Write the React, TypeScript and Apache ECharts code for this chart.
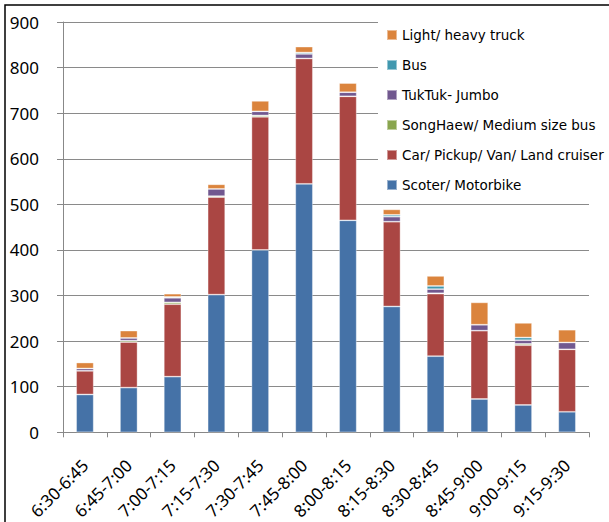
import React, { useEffect, useRef } from "react";
import * as echarts from "echarts";

const categories = ["6:30-6:45", "6:45-7:00", "7:00-7:15", "7:15-7:30", "7:30-7:45", "7:45-8:00", "8:00-8:15", "8:15-8:30", "8:30-8:45", "8:45-9:00", "9:00-9:15", "9:15-9:30"];
const scoter = [83, 98, 122, 302, 400, 545, 465, 276, 167, 73, 60, 45];
const car = [52, 100, 159, 214, 292, 275, 272, 186, 137, 150, 131, 137];
const songHaew = [0, 3, 4, 2, 3, 0, 0, 0, 1, 0, 3, 0];
const tukTuk = [5, 6, 10, 16, 9, 10, 9, 11, 9, 13, 8, 15];
const bus = [0, 0, 2, 0, 0, 3, 0, 4, 7, 0, 6, 0];
const truck = [13, 16, 7, 10, 23, 13, 20, 12, 22, 49, 32, 28];

const seriesNames = [
  "Scoter/ Motorbike",
  "Car/ Pickup/ Van/ Land cruiser",
  "SongHaew/ Medium size bus",
  "TukTuk- Jumbo",
  "Bus",
  "Light/ heavy truck",
];
const seriesData = [scoter, car, songHaew, tukTuk, bus, truck];
const colors = ["#4572A7", "#AA4643", "#89A54E", "#71588F", "#4198AF", "#DB843D"];

export default function App() {
  const ref = useRef<HTMLDivElement>(null);
  useEffect(() => {
    document.body.style.margin = "0";
    const chart = echarts.init(ref.current!, null, { renderer: "svg" });
    chart.setOption({
      animation: false,
      color: colors,
      textStyle: { fontFamily: "Noto Sans" },
      grid: { left: 63, right: 20, top: 22, bottom: 88 },
      legend: {
        orient: "vertical",
        left: 378,
        top: 20,
        padding: [8, 6, 12, 8],
        backgroundColor: "#ffffff",
        data: [...seriesNames].reverse(),
        itemWidth: 10,
        itemHeight: 10,
        itemGap: 16,
        icon: "rect",
        textStyle: { fontSize: 13.5, color: "#000", lineHeight: 12, fontFamily: "DejaVu Sans" },
      },
      xAxis: {
        type: "category",
        data: categories,
        axisLine: { show: true, lineStyle: { color: "#888", width: 1 } },
        axisTick: { show: true, length: 5, lineStyle: { color: "#888" } },
        axisLabel: { rotate: 45, fontSize: 17, color: "#000", margin: 30, interval: 0 },
      },
      yAxis: {
        type: "value",
        min: 0,
        max: 900,
        interval: 100,
        axisLine: { show: true, lineStyle: { color: "#888", width: 1 } },
        axisTick: { show: true, length: 6, lineStyle: { color: "#888" } },
        axisLabel: { fontSize: 17, color: "#000", margin: 24 },
        splitLine: { show: true, lineStyle: { color: "#8a8a8a", width: 1.2 } },
      },
      series: seriesNames.map((name, i) => ({
        name,
        type: "bar",
        stack: "total",
        barWidth: "40%",
        data: seriesData[i],
        itemStyle: { borderColor: "rgba(255,255,255,0.45)", borderWidth: 0.8 },
      })),
      graphic: [
        {
          type: "rect",
          shape: { x: 5, y: 5, width: 700, height: 600 },
          style: { fill: "none", stroke: "#000", lineWidth: 1.5 },
          z: 100,
        },
      ],
    });
    return () => chart.dispose();
  }, []);
  return <div ref={ref} style={{ position: "absolute", left: 0, top: 0, width: 609, height: 522 }} />;
}
